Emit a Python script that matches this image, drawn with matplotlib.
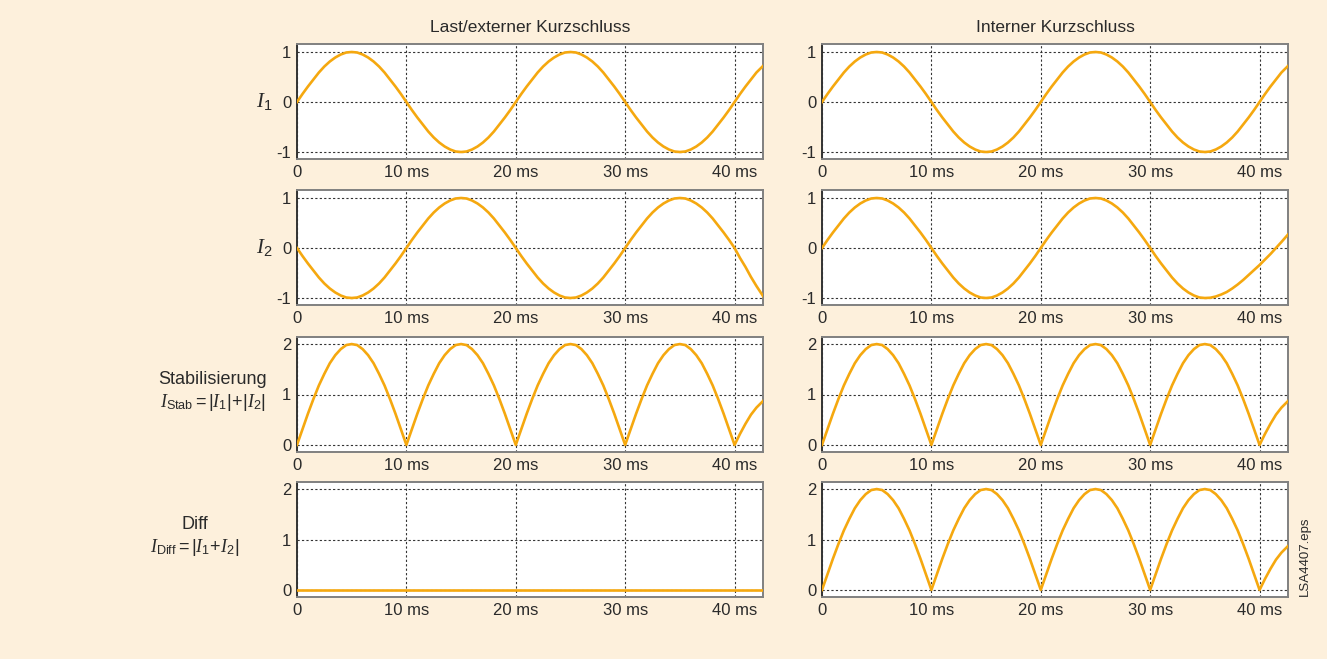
import numpy as np
import matplotlib
matplotlib.use("Agg")
import matplotlib.pyplot as plt

# sample times (ms): every 0.5 ms up to 42 ms, then the right edge at 42.6 ms
T_MS = list(np.arange(0, 42.5, 0.5)) + [42.6]

# one positive half wave of the currents (0 .. 9.5 ms)
HALF_WAVE = [0, .16, .31, .45, .59, .71, .81, .89, .95, .99,
             1, .99, .95, .89, .81, .71, .59, .45, .31, .16]
NEG_HALF = [-v for v in HALF_WAVE]
# one arch of the rectified curves (0 .. 9.5 ms)
ARCH = [0, .31, .62, .91, 1.18, 1.41, 1.62, 1.78, 1.9, 1.98,
        2, 1.98, 1.9, 1.78, 1.62, 1.41, 1.18, .91, .62, .31]

# last samples of each panel (40 .. 42.6 ms) where the drawing deviates
I1_TAIL = [0, .16, .31, .45, .59, .72]
I2_EXT_TAIL = [0, -.2, -.38, -.58, -.76, -.96]
ARCH_TAIL = [0, .22, .42, .6, .74, .87]
# internal I2 from 30 ms on
I2_INT_TAIL = [0, -.16, -.31, -.45, -.59, -.71, -.81, -.89, -.95, -.99,
               -1, -.995, -.97, -.93, -.88, -.81, -.73, -.64, -.54, -.44,
               -.34, -.23, -.12, 0, .12, .27]

I1_EXT = HALF_WAVE + NEG_HALF + HALF_WAVE + NEG_HALF + I1_TAIL
I2_EXT = NEG_HALF + HALF_WAVE + NEG_HALF + HALF_WAVE + I2_EXT_TAIL
STAB_EXT = ARCH * 4 + ARCH_TAIL
DIFF_EXT = [0] * len(T_MS)

I1_INT = HALF_WAVE + NEG_HALF + HALF_WAVE + NEG_HALF + I1_TAIL
I2_INT = HALF_WAVE + NEG_HALF + HALF_WAVE + I2_INT_TAIL
STAB_INT = ARCH * 4 + ARCH_TAIL
DIFF_INT = ARCH * 4 + ARCH_TAIL

COLUMNS = ["Last/externer Kurzschluss", "Interner Kurzschluss"]
X_TICKS = [0, 10, 20, 30, 40]
X_LABELS = ["0", "10 ms", "20 ms", "30 ms", "40 ms"]
Y_TICKS_AC = [-1, 0, 1]
Y_TICKS_DC = [0, 1, 2]
ROW_LABELS = [r"$I_1$", r"$I_2$",
              "Stabilisierung\n" + r"$I_{\mathrm{Stab}} = |I_1|\!+\!|I_2|$",
              "Diff\n" + r"$I_{\mathrm{Diff}} = |I_1\!+\!I_2|$"]

BG = "#fdf0dc"
ORANGE = "#f5a80f"
TXT = "#2a2a2a"

plt.rcParams["font.family"] = ["Liberation Sans", "DejaVu Sans"]
plt.rcParams["mathtext.fontset"] = "custom"
plt.rcParams["mathtext.rm"] = "Liberation Sans"
plt.rcParams["mathtext.sf"] = "Liberation Sans"
plt.rcParams["mathtext.it"] = "Liberation Serif:italic"
plt.rcParams["mathtext.bf"] = "Liberation Sans:bold"

data = [[I1_EXT, I2_EXT, STAB_EXT, DIFF_EXT],
        [I1_INT, I2_INT, STAB_INT, DIFF_INT]]

fig = plt.figure(figsize=(13.27, 6.59), dpi=100, facecolor=BG)

lefts = [297 / 1327, 822 / 1327]
width = 466 / 1327
tops = [44, 190, 337, 482]
height = 115 / 659
label_x = [264, 264, 213, 195]

for c in range(2):
    for r in range(4):
        bottom = 1 - (tops[r] + 115) / 659
        ax = fig.add_axes([lefts[c], bottom, width, height])
        ax.set_facecolor("white")
        ax.plot(T_MS, data[c][r], color=ORANGE, lw=1.9, zorder=3,
                solid_joinstyle="round")
        ax.set_xlim(0, T_MS[-1])
        if r < 2:
            ax.set_ylim(-1.14, 1.16)
            ax.set_yticks(Y_TICKS_AC)
            ax.set_yticklabels(["-1", "0", "1"])
        else:
            ax.set_ylim(-0.14, 2.14)
            ax.set_yticks(Y_TICKS_DC)
            ax.set_yticklabels(["0", "1", "2"])
        ax.set_xticks(X_TICKS)
        ax.set_xticklabels(X_LABELS)
        ax.tick_params(length=0, labelsize=12, colors=TXT, pad=4)
        ax.grid(True, color="#333", ls=(0, (2, 2)), lw=0.8)
        for s in ax.spines.values():
            s.set_color("#808080")
            s.set_linewidth(1.4)
        ax.spines["left"].set_color("#333")
        if c == 0:
            yc = 1 - (tops[r] + 57) / 659
            if r < 2:
                fig.text(label_x[r] / 1327, yc, ROW_LABELS[r], fontsize=15,
                         ha="center", va="center", color=TXT)
            else:
                fig.text(label_x[r] / 1327, yc + 0.003, ROW_LABELS[r],
                         fontsize=13, ha="center", va="center", color=TXT,
                         linespacing=1.25)

    fig.text(lefts[c] + width / 2, 1 - 28 / 659, COLUMNS[c], fontsize=12.5,
             ha="center", va="center", color=TXT)

fig.text(1305 / 1327, 1 - 556 / 659, "LSA4407.eps", rotation=90, fontsize=9.5,
         ha="center", va="center", color=TXT)

fig.savefig("out.png", dpi=100, facecolor=BG)
